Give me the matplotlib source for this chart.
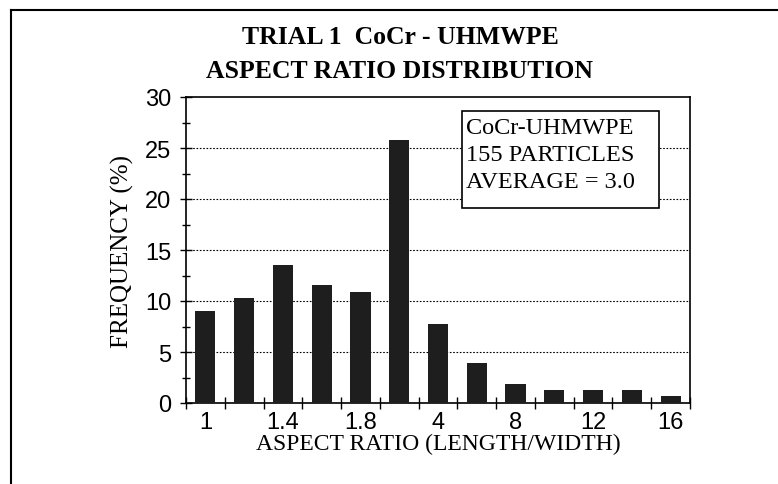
import matplotlib.pyplot as plt
import numpy as np

# aspect ratio bins and frequency (%)
ratio_bins = ['1', '1.2', '1.4', '1.6', '1.8', '2', '4', '6', '8', '10', '12', '14', '16']
frequency = [9.0, 10.3, 13.5, 11.6, 10.9, 25.8, 7.7, 3.9, 1.9, 1.3, 1.3, 1.3, 0.7]

serif = 'Liberation Serif'
sans = 'Liberation Sans'

fig = plt.figure(figsize=(7.78, 4.85), dpi=100)
ax = fig.add_axes([186/778, 1-404/485, (690-186)/778, (404-98)/485])

x = np.arange(len(ratio_bins))
ax.bar(x, frequency, width=0.52, color='#1e1e1e', zorder=3)

ax.set_xlim(-0.5, len(ratio_bins)-0.5)
ax.set_ylim(0, 30)

# labels on every other bar, tick marks between bars
ax.set_xticks(x[::2])
ax.set_xticklabels(ratio_bins[::2], fontfamily=sans, fontsize=17)
ax.set_xticks(np.arange(-0.5, len(ratio_bins)), minor=True)
ax.tick_params(axis='x', which='major', length=0, pad=6)
ax.tick_params(axis='x', which='minor', direction='inout', length=9, width=1)

ax.set_yticks(range(0, 31, 5))
ax.set_yticklabels([str(v) for v in range(0, 31, 5)], fontfamily=sans, fontsize=17)
ax.set_yticks(np.arange(2.5, 30, 5), minor=True)
ax.tick_params(axis='y', which='major', direction='inout', length=9, width=1, pad=6)
ax.tick_params(axis='y', which='minor', direction='inout', length=6, width=1)

for v in range(5, 30, 5):
    ax.axhline(v, color='black', linestyle=(0, (1.5, 1.5)), linewidth=0.8, zorder=1)

for s in ax.spines.values():
    s.set_linewidth(1.2)

ax.set_ylabel('FREQUENCY (%)', fontfamily=serif, fontsize=18, labelpad=8)
ax.set_xlabel('ASPECT RATIO (LENGTH/WIDTH)', fontfamily=serif, fontsize=17, labelpad=0)

fig.text(400/778, 1-38/485, 'TRIAL 1  CoCr - UHMWPE', ha='center', va='center',
         fontfamily=serif, fontsize=18.5, fontweight='bold')
fig.text(400/778, 1-72/485, 'ASPECT RATIO DISTRIBUTION', ha='center', va='center',
         fontfamily=serif, fontsize=18.5, fontweight='bold')

# legend-like info box
ax.add_patch(plt.Rectangle((0.548, 0.637), 0.39, 0.317, transform=ax.transAxes,
                           facecolor='white', edgecolor='black', linewidth=1.2, zorder=5))
ax.text(0.556, 0.935, 'CoCr-UHMWPE\n155 PARTICLES\nAVERAGE = 3.0', transform=ax.transAxes,
        ha='left', va='top', fontfamily=serif, fontsize=17.5, linespacing=1.38, zorder=6)

# outer frame (top and left edges)
fig.add_artist(plt.Line2D([11/778, 1], [1-11/485, 1-11/485], color='black', linewidth=1.5))
fig.add_artist(plt.Line2D([11/778, 11/778], [0, 1-11/485], color='black', linewidth=1.5))

fig.savefig('out.png', dpi=100)
